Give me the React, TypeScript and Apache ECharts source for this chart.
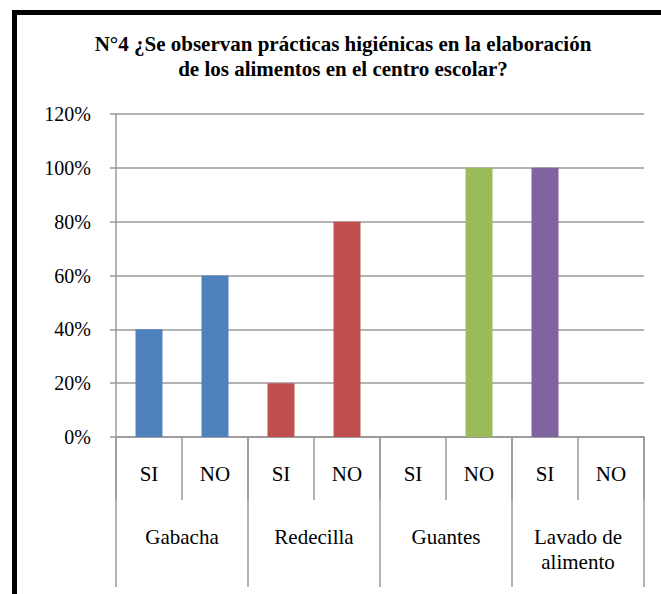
import React, { useEffect, useRef } from "react";
import * as echarts from "echarts";

const titleLines = [
  "N°4 ¿Se observan prácticas higiénicas en la elaboración",
  "de los alimentos en el centro escolar?",
];
const subCategories = ["SI", "NO", "SI", "NO", "SI", "NO", "SI", "NO"];
const groups = ["Gabacha", "Redecilla", "Guantes", "Lavado de\nalimento"];
const values = [40, 60, 20, 80, 0, 100, 100, 0];
const groupColors = ["#4F81BD", "#C0504D", "#9BBB59", "#8064A2"];
const yTicks = { min: 0, max: 120, interval: 20 };

const FONT = "Liberation Serif";
const GRAY = "#9a9a9a";

export default function App() {
  const ref = useRef<HTMLDivElement>(null);
  useEffect(() => {
    const chart = echarts.init(ref.current!, null, { renderer: "svg" });
    const data = values.map((v, i) => ({
      value: v,
      itemStyle: { color: groupColors[Math.floor(i / 2)] },
    }));
    chart.setOption({
      animation: false,
      backgroundColor: "#fff",
      grid: { left: 116, right: 17, top: 114, bottom: 157, containLabel: false },
      graphic: [
        {
          type: "rect",
          z: -1,
          shape: { x: 14.5, y: 12.5, width: 800, height: 800 },
          style: { fill: "none", stroke: "#000", lineWidth: 5 },
        },
        {
          type: "text",
          x: 343,
          y: 31,
          style: {
            text: titleLines.join("\n"),
            fontFamily: FONT,
            fontSize: 21,
            fontWeight: "bold",
            fill: "#000",
            textAlign: "center",
            lineHeight: 25,
          },
        },
      ],
      xAxis: [
        {
          type: "category",
          data: subCategories,
          position: "bottom",
          axisLine: { show: true, lineStyle: { color: GRAY, width: 1.5 } },
          axisTick: { show: true, length: 63, interval: 0, lineStyle: { color: GRAY, width: 1.5 } },
          axisLabel: { interval: 0, margin: 26, fontSize: 21, fontFamily: FONT, color: "#000" },
          splitLine: { show: false },
        },
        {
          type: "category",
          data: groups,
          position: "bottom",
          offset: 0,
          axisLine: { show: true, lineStyle: { color: GRAY, width: 1.5 } },
          axisTick: { show: true, length: 150, interval: 0, lineStyle: { color: GRAY, width: 1.5 } },
          axisLabel: {
            interval: 0,
            margin: 87,
            fontSize: 21,
            lineHeight: 25,
            fontFamily: FONT,
            color: "#000",
          },
          splitLine: { show: false },
        },
      ],
      yAxis: {
        type: "value",
        min: yTicks.min,
        max: yTicks.max,
        interval: yTicks.interval,
        axisLine: { show: true, lineStyle: { color: GRAY, width: 1.5 } },
        axisTick: { show: true, length: 6, lineStyle: { color: GRAY, width: 1.5 } },
        axisLabel: {
          formatter: "{value}%",
          margin: 25,
          fontSize: 20,
          fontFamily: FONT,
          color: "#000",
        },
        splitLine: { show: true, lineStyle: { color: GRAY, width: 1.5 } },
      },
      series: [
        {
          type: "bar",
          xAxisIndex: 0,
          yAxisIndex: 0,
          data,
          barWidth: 27,
        },
      ],
    });
    return () => chart.dispose();
  }, []);
  return (
    <div
      ref={ref}
      style={{ position: "fixed", left: 0, top: 0, width: 661, height: 594 }}
    />
  );
}
